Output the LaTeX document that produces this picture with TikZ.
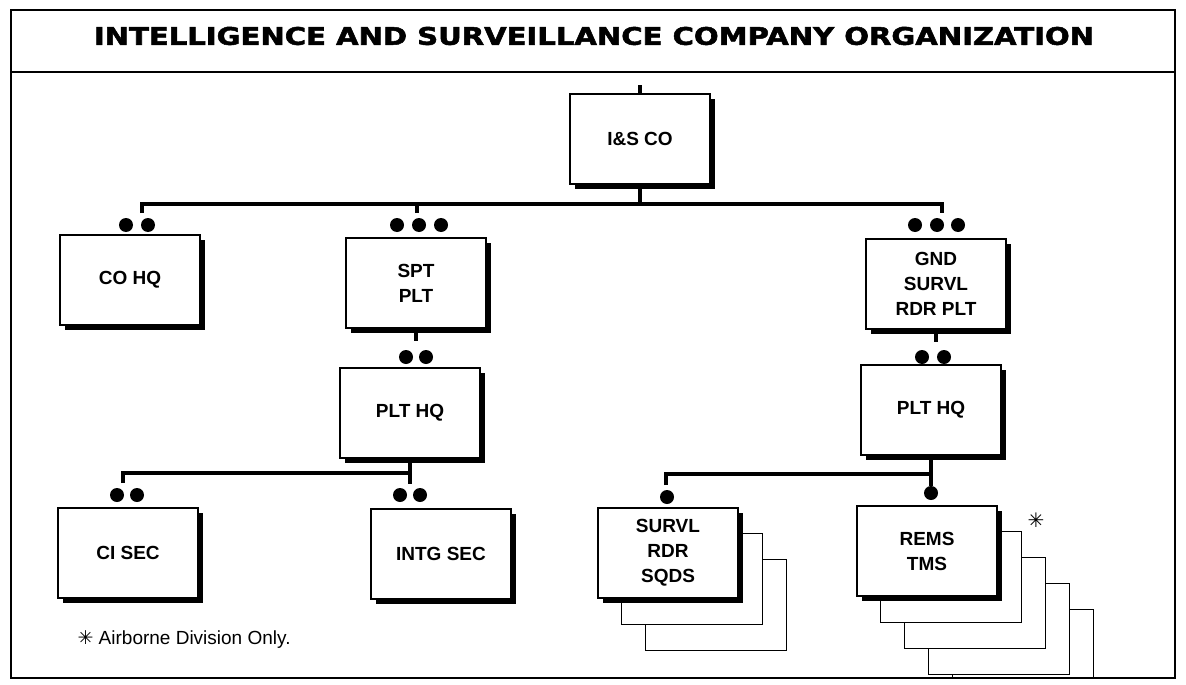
\documentclass[tikz,border=0pt]{standalone}
\usepackage{graphicx}
\usepackage{fontspec}
\setmainfont{Liberation Sans}
\newfontfamily\titlefont[BoldFeatures={FakeBold=2}]{DejaVu Sans}
\newfontfamily\symfont{DejaVu Sans}
\usetikzlibrary{shadows,backgrounds,calc}

\tikzset{
  unit/.style={draw, line width=1.6pt, fill=white, minimum width=140pt,
    minimum height=90pt, align=center,
    font=\bfseries\fontsize{19}{25}\selectfont,
    general shadow={fill=black, shadow xshift=5pt, shadow yshift=-5pt}},
  backbox/.style={draw, line width=1.2pt, fill=white},
  dot/.style={circle, fill=black, inner sep=0pt, minimum size=14pt},
  conn/.style={line width=3.6pt},
  frame/.style={line width=1.8pt}
}

\begin{document}
\begin{tikzpicture}[x=1pt, y=-1pt]
    \useasboundingbox (0,0) rectangle (1186,685);

    % Outer frame and title band
    \draw[frame] (11,10) rectangle (1175,678);
    \draw[frame] (11,72) -- (1175,72);
    \node (title) at (594,36) {\resizebox{1000pt}{18pt}{\titlefont\bfseries INTELLIGENCE AND SURVEILLANCE COMPANY ORGANIZATION}};

    % The units
    \node[unit] (isco) at (640,139) {I\&S CO};
    \node[unit] (coHQ) at (130,280) {CO HQ};
    \node[unit] (sptPLT) at (416,283) {SPT\\PLT};
    \node[unit] (gndPLT) at (936,284) {GND\\SURVL\\RDR PLT};
    \node[unit] (pltHQa) at (410,413) {PLT HQ};
    \node[unit] (pltHQb) at (931,410) {PLT HQ};
    \node[unit] (ciSEC) at (128,553) {CI SEC};
    \node[unit] (intgSEC) at (441,554) {INTG SEC};
    \node[unit] (sqds) at (668,553) {SURVL\\RDR\\SQDS};
    \node[unit] (tms) at (927,551) {REMS\\TMS};

    % Stacked boxes behind the squads and teams
    \begin{scope}[on background layer]
        \clip (11,10) rectangle (1175,678);
        \foreach \k in {2,1}
            \draw[backbox] ($(sqds.south west)+(\k*24,\k*26)$) rectangle ($(sqds.north east)+(\k*24,\k*26)$);
        \foreach \k in {4,3,2,1}
            \draw[backbox] ($(tms.south west)+(\k*24,\k*26)$) rectangle ($(tms.north east)+(\k*24,\k*26)$);
    \end{scope}
    \node (star) at (1036,520) {\symfont\bfseries\fontsize{20}{20}\selectfont ✳};

    % Stub above the company
    \draw[conn] (isco.north) -- ++(0,-8);

    % Company level connections
    \coordinate (bar1) at ($(isco.south)+(0,19)$);
    \coordinate (coHQin) at (142,213);
    \coordinate (sptin) at (417,213);
    \coordinate (gndin) at (942,213);
    \draw[conn] (isco.south) -- (bar1);
    \draw[conn] (coHQin) |- (bar1) -| (gndin);
    \draw[conn] (sptin) -- (sptin |- bar1);
    \foreach \x [count=\i] in {126,148} \node[dot] (coHQdot\i) at (\x,225) {};
    \foreach \x [count=\i] in {397,419,441} \node[dot] (sptdot\i) at (\x,225) {};
    \foreach \x [count=\i] in {915,937,958} \node[dot] (gnddot\i) at (\x,225) {};

    % Platoon headquarters
    \coordinate (pltHQain) at ($(sptPLT.south)+(0,12)$);
    \coordinate (pltHQbin) at ($(gndPLT.south)+(0,12)$);
    \draw[conn] (sptPLT.south) -- (pltHQain);
    \draw[conn] (gndPLT.south) -- (pltHQbin);
    \foreach \x [count=\i] in {406,426} \node[dot] (pltadot\i) at (\x,357) {};
    \foreach \x [count=\i] in {922,944} \node[dot] (pltbdot\i) at (\x,357) {};

    % Sections under the support platoon
    \coordinate (ciin) at (123,483);
    \coordinate (intgin) at ($(pltHQa.south)+(0,25)$);
    \draw[conn] (pltHQa.south) -- (intgin);
    \draw[conn] (ciin) |- ($(pltHQa.south)+(0,14)$);
    \foreach \x [count=\i] in {117,137} \node[dot] (cidot\i) at (\x,495) {};
    \foreach \x [count=\i] in {400,420} \node[dot] (intgdot\i) at (\x,495) {};

    % Squads and teams under the radar platoon
    \coordinate (sqdsin) at (666,485);
    \coordinate (tmsin) at ($(pltHQb.south)+(0,30)$);
    \draw[conn] (pltHQb.south) -- (tmsin);
    \draw[conn] (sqdsin) |- ($(pltHQb.south)+(0,18)$);
    \node[dot] (sqdsdot) at (667,497) {};
    \node[dot] (tmsdot) at (931,493) {};

    % Footnote
    \node[anchor=west, font=\fontsize{19}{22}\selectfont] (note) at (74,640) {{\symfont\bfseries ✳}\ Airborne Division Only.};
\end{tikzpicture}
\end{document}
